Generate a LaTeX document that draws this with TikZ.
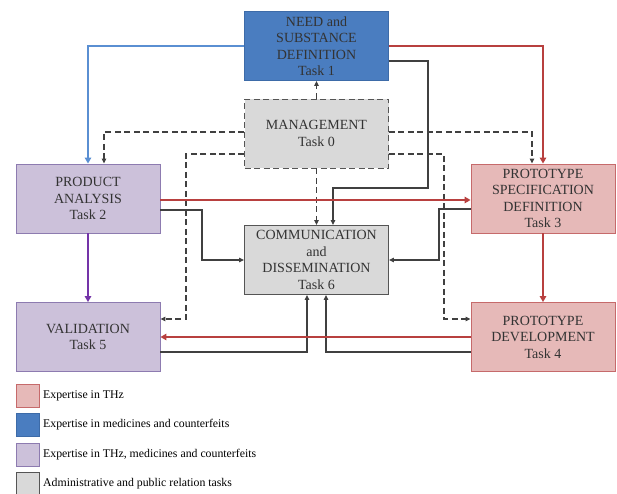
\documentclass[tikz,border=0pt]{standalone}
\usepackage{fontspec}
\setmainfont{Liberation Serif}
\usetikzlibrary{arrows.meta}
\definecolor{bfill}{HTML}{4A7DC0}
\definecolor{bdraw}{HTML}{3D6BA8}
\definecolor{rfill}{HTML}{E6B9B8}
\definecolor{rdraw}{HTML}{C66A6B}
\definecolor{pfill}{HTML}{CCC1DA}
\definecolor{pdraw}{HTML}{8D7BB0}
\definecolor{gfill}{HTML}{D9D9D9}
\definecolor{gdraw}{HTML}{555555}
\definecolor{rline}{HTML}{B8403F}
\definecolor{bline}{HTML}{5A8FD2}
\definecolor{pline}{HTML}{7434A8}
\definecolor{kline}{HTML}{404040}
\definecolor{txt}{HTML}{333333}
\tikzset{
  task/.style={draw, line width=0.9pt, minimum width=144pt, minimum height=69pt,
    align=center, font=\fontsize{14}{16.5}\selectfont, text=txt, inner sep=0pt},
  tred/.style={task, fill=rfill, draw=rdraw},
  tblue/.style={task, fill=bfill, draw=bdraw},
  tpurp/.style={task, fill=pfill, draw=pdraw},
  tgray/.style={task, fill=gfill, draw=gdraw},
  tip/.style={-{Triangle[length=5pt,width=4.5pt]}},
  redarr/.style={draw=rline, line width=2.6pt, -{Triangle[length=6pt,width=6.5pt]}},
  bluearr/.style={draw=bline, line width=2.3pt, -{Triangle[length=6pt,width=6.5pt]}},
  purparr/.style={draw=pline, line width=2.3pt, -{Triangle[length=6pt,width=6.5pt]}},
  grayarr/.style={tip, draw=kline, line width=1.1pt},
  dasharr/.style={tip, draw=kline, line width=1.2pt, dash pattern=on 6pt off 3.5pt},
  legbox/.style={draw, line width=0.8pt, minimum width=23pt, minimum height=23pt, inner sep=0pt},
  legtxt/.style={anchor=west, font=\fontsize{11.8}{13}\selectfont, text=black, inner sep=0pt}
}
\begin{document}
\begin{tikzpicture}[x=1pt,y=-1pt]
\useasboundingbox (0,0) rectangle (617,493);
% nodes
\node[tblue] (t1) at (316.5,46) {NEED and\\SUBSTANCE\\DEFINITION\\Task 1};
\node[tgray, dash pattern=on 6pt off 3.5pt] (t0) at (316.5,133.5) {MANAGEMENT\\Task 0};
\node[tpurp] (t2) at (88,198.5) {PRODUCT\\ANALYSIS\\Task 2};
\node[tred] (t3) at (543,198.5) {PROTOTYPE\\SPECIFICATION\\DEFINITION\\Task 3};
\node[tgray] (t6) at (316.5,260) {COMMUNICATION\\and\\DISSEMINATION\\Task 6};
\node[tpurp] (t5) at (88,337) {VALIDATION\\Task 5};
\node[tred] (t4) at (543,337) {PROTOTYPE\\DEVELOPMENT\\Task 4};
% coordinates
\coordinate (g1a) at (428,61);
\coordinate (g1b) at (428,188);
\coordinate (g1c) at (333,188);
\coordinate (d1) at (104,132);
\coordinate (d2) at (532,132);
\coordinate (d3a) at (186,154);
\coordinate (d3b) at (186,319);
\coordinate (d4a) at (444,154);
\coordinate (d4b) at (444,319);
\coordinate (g2a) at (202,210);
\coordinate (g2b) at (202,260);
\coordinate (g3a) at (439,209);
\coordinate (g3b) at (439,260);
\coordinate (g5) at (307,352);
\coordinate (g4) at (326,352);
% dashed management arrows
\draw[dasharr] (t0.north) -- (t1.south);
\draw[dasharr] (t0.south) -- (t6.north);
\draw[dasharr] (t0.west |- d1) -| (d1 |- t2.north);
\draw[dasharr] (t0.east |- d2) -| (d2 |- t3.north);
\draw[dasharr] (t0.west |- d3a) -- (d3a) -- (d3b) -- (d3b -| t5.east);
\draw[dasharr] (t0.east |- d4a) -- (d4a) -- (d4b) -- (d4b -| t4.west);
% gray arrows
\draw[grayarr] (t1.east |- g1a) -- (g1a) -- (g1b) -- (g1c) -- (g1c |- t6.north);
\draw[grayarr] (t2.east |- g2a) -- (g2a) -- (g2b) -- (t6.west);
\draw[grayarr] (t3.west |- g3a) -- (g3a) -- (g3b) -- (t6.east);
\draw[grayarr] (t5.east |- g5) -- (g5) -- (g5 |- t6.south);
\draw[grayarr] (t4.west |- g4) -- (g4) -- (g4 |- t6.south);
% coloured arrows
\draw[bluearr] (t1.west) -| (t2.north);
\draw[redarr] (t1.east) -| (t3.north);
\draw[redarr] ([yshift=-1.5pt]t2.east) -- ([yshift=-1.5pt]t3.west);
\draw[purparr] (t2.south) -- (t5.north);
\draw[redarr] (t3.south) -- (t4.north);
\draw[redarr] (t4.west) -- (t5.east);
% legend
\node[legbox, fill=rfill, draw=rdraw] (l1) at (27.5,396) {};
\node[legbox, fill=bfill, draw=bdraw] (l2) at (27.5,425) {};
\node[legbox, fill=pfill, draw=pdraw] (l3) at (27.5,454.5) {};
\node[legbox, fill=gfill, draw=gdraw] (l4) at (27.5,483.5) {};
\node[legtxt] at (43,396) {Expertise in THz};
\node[legtxt] at (43,425) {Expertise in medicines and counterfeits};
\node[legtxt] at (43,454.5) {Expertise in THz, medicines and counterfeits};
\node[legtxt] at (43,483.5) {Administrative and public relation tasks};
\end{tikzpicture}
\end{document}
